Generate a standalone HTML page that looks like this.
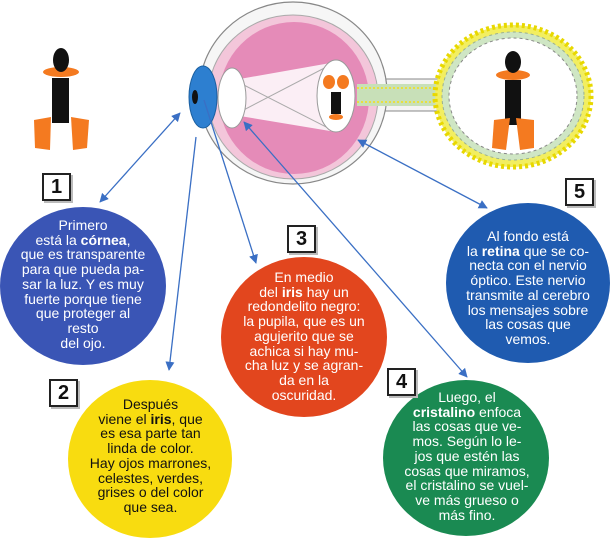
<!DOCTYPE html>
<html><head><meta charset="utf-8"><style>
html,body{margin:0;padding:0;background:#fff;}
body{width:613px;height:540px;position:relative;overflow:hidden;font-family:"Liberation Sans",sans-serif;}
.t{position:absolute;text-align:center;font-size:14px;line-height:14.7px;color:#fff;}
.box{position:absolute;width:25px;height:24px;border:2px solid #222;background:#fff;font:bold 20px "Liberation Sans",sans-serif;text-align:center;line-height:24px;color:#111;box-shadow:2px 2px 0 #bbb;}
</style></head><body>
<svg width="613" height="540" style="position:absolute;left:0;top:0">
<defs><marker id="a" viewBox="0 0 10 10" refX="9" refY="5" markerWidth="7" markerHeight="7" orient="auto-start-reverse"><path d="M0,0 L10,5 L0,10 z" fill="#3a6fc4"/></marker></defs>
<!-- eye -->
<path d="M350,79 L446,79 L446,111 L350,111 z" fill="#f4f4f4" stroke="#888"/>
<ellipse cx="293" cy="93" rx="94" ry="91" fill="#f6f6f6" stroke="#888" stroke-width="1.2"/>
<ellipse cx="293" cy="97" rx="85" ry="82" fill="#f3c6da" stroke="#aaa"/>
<ellipse cx="294" cy="98" rx="75" ry="76" fill="#e58bb8"/>
<rect x="357" y="84" width="88" height="22" fill="#c8e0b8"/>
<line x1="357" y1="88" x2="445" y2="88" stroke="#e8e040" stroke-width="2" stroke-dasharray="2 2"/>
<line x1="357" y1="102" x2="445" y2="102" stroke="#e8e040" stroke-width="2" stroke-dasharray="2 2"/>
<polygon points="234,80 336,62 336,132 234,115" fill="#fff" opacity="0.85"/>
<line x1="234" y1="80" x2="336" y2="132" stroke="#aaa"/>
<line x1="234" y1="115" x2="336" y2="62" stroke="#aaa"/>
<ellipse cx="203" cy="97" rx="14" ry="31" fill="#2d7fd0" stroke="#1a5fa0"/>
<ellipse cx="195" cy="97" rx="3" ry="7" fill="#111"/>
<ellipse cx="232" cy="98" rx="14" ry="30" fill="#fff" stroke="#999"/>
<ellipse cx="336" cy="96" rx="19" ry="36" fill="#fff" stroke="#999"/>
<rect x="331" y="92" width="10" height="22" fill="#111"/>
<ellipse cx="329" cy="82" rx="6" ry="7" fill="#f47a20"/><ellipse cx="343" cy="82" rx="6" ry="7" fill="#f47a20"/>
<ellipse cx="336" cy="117" rx="7" ry="3" fill="#f47a20"/>
<!-- right circle -->
<ellipse cx="513" cy="96" rx="78" ry="71" fill="#f2ee60" stroke="#e8d800" stroke-width="5" stroke-dasharray="3 3"/>
<ellipse cx="513" cy="96" rx="71" ry="64" fill="#cfe6c4" stroke="#9ab090" stroke-dasharray="3 3"/>
<ellipse cx="513" cy="96" rx="64" ry="58" fill="#fff" stroke="#888" stroke-dasharray="3 3"/>
<g>
<ellipse cx="513" cy="75" rx="17" ry="5" fill="#f47a20"/>
<ellipse cx="513" cy="62" rx="8" ry="11" fill="#111"/>
<rect x="505" y="80" width="16" height="45" fill="#111"/>
<path d="M494,120 L510,118 L506,150 L492,148 z" fill="#f47a20"/>
<path d="M516,118 L534,120 L534,148 L520,150 z" fill="#f47a20"/>
</g>
<!-- left duck -->
<g>
<ellipse cx="61" cy="72" rx="18" ry="5" fill="#f47a20"/>
<ellipse cx="61" cy="60" rx="8" ry="12" fill="#111"/>
<rect x="52" y="78" width="17" height="45" fill="#111"/>
<path d="M34,120 L51,117 L50,150 L35,148 z" fill="#f47a20"/>
<path d="M71,117 L89,120 L87,148 L73,150 z" fill="#f47a20"/>
</g>
<!-- circles -->
<ellipse cx="83" cy="286" rx="83" ry="79" fill="#3a55b5"/>
<ellipse cx="150" cy="459" rx="82" ry="79" fill="#f8dc10"/>
<ellipse cx="304" cy="337" rx="83" ry="80" fill="#e2461e"/>
<ellipse cx="466" cy="458" rx="83" ry="78" fill="#1a8a52"/>
<ellipse cx="528" cy="283" rx="82" ry="80" fill="#1f5bb0"/>
<!-- arrows -->
<g stroke="#3a6fc4" stroke-width="1.3" fill="none">
<line x1="180" y1="113" x2="100" y2="202" marker-start="url(#a)" marker-end="url(#a)"/>
<line x1="196" y1="137" x2="169" y2="370" marker-end="url(#a)"/>
<line x1="204" y1="100" x2="256" y2="263" marker-end="url(#a)"/>
<line x1="244" y1="122" x2="467" y2="377" marker-start="url(#a)" marker-end="url(#a)"/>
<line x1="358" y1="140" x2="487" y2="208" marker-start="url(#a)" marker-end="url(#a)"/>
</g>
</svg>
<div class="box" style="left:42px;top:173px">1</div>
<div class="box" style="left:49px;top:379px">2</div>
<div class="box" style="left:287px;top:225px">3</div>
<div class="box" style="left:387px;top:368px">4</div>
<div class="box" style="left:565px;top:178px">5</div>
<div class="t" style="left:0;width:166px;top:218px">Primero<br>está la <b>córnea</b>,<br>que es transparente<br>para que pueda pa-<br>sar la luz. Y es muy<br>fuerte porque tiene<br>que proteger al<br>resto<br>del ojo.</div>
<div class="t" style="left:68px;width:165px;top:397px;color:#111">Después<br>viene el <b>iris</b>, que<br>es esa parte tan<br>linda de color.<br>Hay ojos marrones,<br>celestes, verdes,<br>grises o del color<br>que sea.</div>
<div class="t" style="left:221px;width:166px;top:270px">En medio<br>del <b>iris</b> hay un<br>redondelito negro:<br>la pupila, que es un<br>agujerito que se<br>achica si hay mu-<br>cha luz y se agran-<br>da en la<br>oscuridad.</div>
<div class="t" style="left:384px;width:166px;top:390px">Luego, el<br><b>cristalino</b> enfoca<br>las cosas que ve-<br>mos. Según lo le-<br>jos que estén las<br>cosas que miramos,<br>el cristalino se vuel-<br>ve más grueso o<br>más fino.</div>
<div class="t" style="left:446px;width:164px;top:229px">Al fondo está<br>la <b>retina</b> que se co-<br>necta con el nervio<br>óptico. Este nervio<br>transmite al cerebro<br>los mensajes sobre<br>las cosas que<br>vemos.</div>
</body></html>
